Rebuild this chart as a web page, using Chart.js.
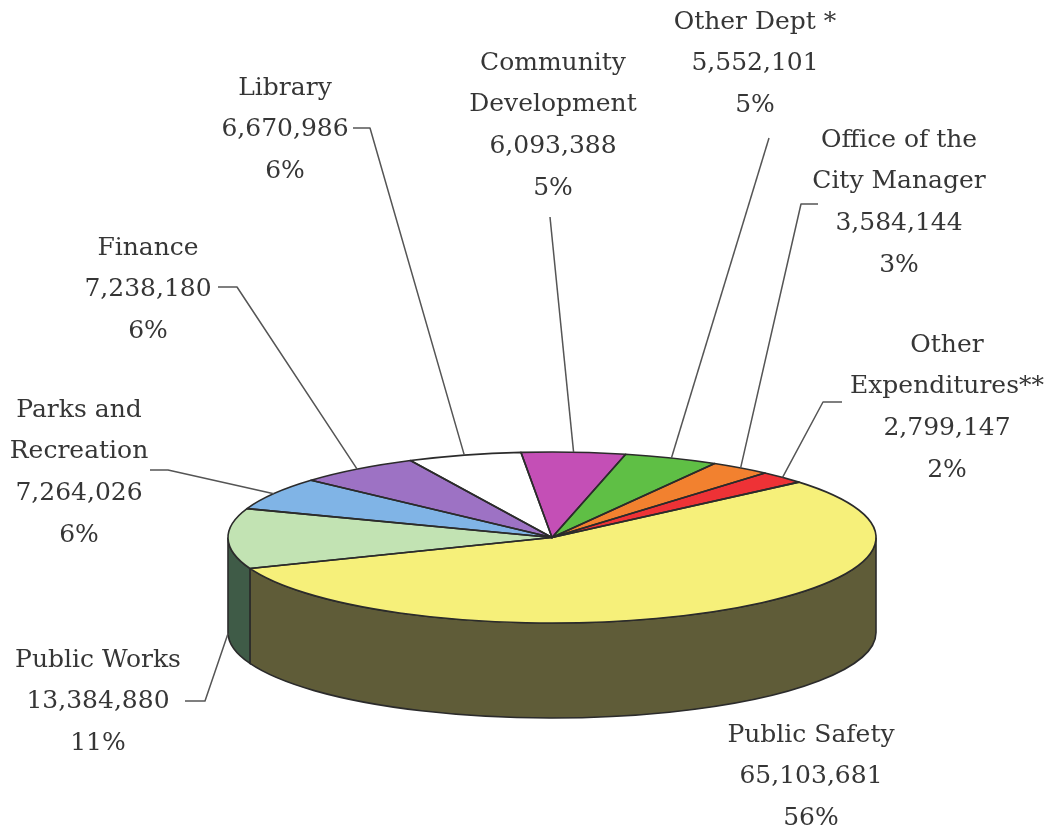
<!DOCTYPE html>
<html>
<head>
<meta charset="utf-8">
<script src="https://cdn.jsdelivr.net/npm/chart.js@4"></script>
<style>
  html, body { margin: 0; padding: 0; background: #ffffff; }
  canvas { display: block; }
</style>
</head>
<body>
<canvas id="budget" width="1044" height="827"></canvas>
<script>
// Expenditures by department, listed clockwise starting at the top of the pie
const departments = [
  'Community Development', 'Other Dept *', 'Office of the City Manager',
  'Other Expenditures**', 'Public Safety', 'Public Works',
  'Parks and Recreation', 'Finance', 'Library'
];
const amounts = [6093388, 5552101, 3584144, 2799147, 65103681, 13384880, 7264026, 7238180, 6670986];
const shareLabels = ['5%', '5%', '3%', '2%', '56%', '11%', '6%', '6%', '6%'];
// how each department name wraps inside its label
const nameLines = [
  ['Community', 'Development'], ['Other Dept *'], ['Office of the', 'City Manager'],
  ['Other', 'Expenditures**'], ['Public Safety'], ['Public Works'],
  ['Parks and', 'Recreation'], ['Finance'], ['Library']
];

// slice colours: top face and the darker outer wall
const topColors  = ['#c44fb6', '#5fbf45', '#f2812f', '#ee3236', '#f6f07a', '#c2e3b3', '#80b4e6', '#9d72c4', '#ffffff'];
const sideColors = ['#6a2a62', '#335f26', '#80441a', '#7e1b1d', '#5f5c38', '#3f5b47', '#45617c', '#553d69', '#8a8a8a'];

// label placement: centre x, centre y of first line, leader polyline from the label towards the slice
const labelLayout = [
  { x: 553, y: 63,  leader: [[550, 217]] },
  { x: 755, y: 22,  leader: [[769, 138]] },
  { x: 899, y: 140, leader: [[818, 204], [801, 204]] },
  { x: 947, y: 345, leader: [[842, 402], [823, 402]] },
  { x: 811, y: 735, leader: null },
  { x: 98,  y: 660, leader: [[185, 701], [205, 701]] },
  { x: 79,  y: 410, leader: [[150, 470], [168, 470]] },
  { x: 148, y: 248, leader: [[218, 287], [237, 287]] },
  { x: 285, y: 88,  leader: [[353, 128], [370, 128]] }
];

// tilted-disc look
const PIE_RADIUS = 324;
const TILT = 0.264;        // vertical squash of the top face
const FACE_CY = 537.5;     // screen y of the top face centre
const DEPTH = 95;          // thickness of the disc
const LINE_GAP = 41.7;
const OUTLINE = '#2b2b2b';

function arcs(chart) { return chart.getDatasetMeta(0).data; }

// walls that face the viewer (angles between 0 and pi in canvas terms)
function frontSpans(a, b) {
  const spans = [];
  for (const base of [-2 * Math.PI, 0, 2 * Math.PI]) {
    const lo = Math.max(a, base), hi = Math.min(b, base + Math.PI);
    if (hi > lo) spans.push([lo, hi]);
  }
  return spans;
}

const tiltedPie = {
  id: 'tiltedPie',
  beforeDatasetsDraw(chart) {
    const ctx = chart.ctx;
    const list = arcs(chart);
    if (!list.length) return;
    const cx = list[0].x, ry = PIE_RADIUS * TILT;
    // outer wall pieces
    list.forEach((arc, i) => {
      frontSpans(arc.startAngle, arc.endAngle).forEach(([lo, hi]) => {
        ctx.beginPath();
        ctx.ellipse(cx, FACE_CY, arc.outerRadius, ry, 0, lo, hi, false);
        ctx.ellipse(cx, FACE_CY + DEPTH, arc.outerRadius, ry, 0, hi, lo, true);
        ctx.closePath();
        ctx.fillStyle = sideColors[i];
        ctx.fill();
        ctx.lineWidth = 1.6;
        ctx.strokeStyle = OUTLINE;
        ctx.stroke();
      });
    });
    // squash the top face drawn by the pie controller
    ctx.save();
    ctx.translate(0, FACE_CY);
    ctx.scale(1, TILT);
    ctx.translate(0, -list[0].y);
  },
  afterDatasetsDraw(chart) {
    const ctx = chart.ctx;
    ctx.restore();
    const list = arcs(chart);
    if (!list.length) return;
    const cx = list[0].x;
    ctx.lineWidth = 1.6;
    ctx.strokeStyle = OUTLINE;
    ctx.lineJoin = 'round';
    list.forEach(arc => {
      const rx = arc.outerRadius, ry = rx * TILT;
      ctx.beginPath();
      ctx.moveTo(cx, FACE_CY);
      ctx.lineTo(cx + rx * Math.cos(arc.startAngle), FACE_CY + ry * Math.sin(arc.startAngle));
      ctx.ellipse(cx, FACE_CY, rx, ry, 0, arc.startAngle, arc.endAngle, false);
      ctx.closePath();
      ctx.stroke();
    });
  }
};

const sliceLabels = {
  id: 'sliceLabels',
  afterDraw(chart) {
    const ctx = chart.ctx;
    const list = arcs(chart);
    const cx = list[0].x;
    ctx.save();
    // leader lines
    ctx.strokeStyle = '#555555';
    ctx.lineWidth = 1.5;
    list.forEach((arc, i) => {
      const lay = labelLayout[i];
      if (!lay.leader) return;
      const mid = (arc.startAngle + arc.endAngle) / 2;
      const rx = arc.outerRadius, ry = rx * TILT;
      let ax = cx + rx * Math.cos(mid);
      let ay = FACE_CY + ry * Math.sin(mid);
      if (Math.sin(mid) > 0) ay += DEPTH;
      ctx.beginPath();
      lay.leader.forEach(([px, py], k) => (k ? ctx.lineTo(px, py) : ctx.moveTo(px, py)));
      ctx.lineTo(ax, ay);
      ctx.stroke();
    });
    // label text
    ctx.font = '25px "DejaVu Serif", serif';
    ctx.fillStyle = '#363636';
    ctx.textAlign = 'center';
    ctx.textBaseline = 'middle';
    list.forEach((arc, i) => {
      const lay = labelLayout[i];
      const lines = nameLines[i].concat([amounts[i].toLocaleString('en-US'), shareLabels[i]]);
      lines.forEach((t, k) => ctx.fillText(t, lay.x, lay.y + k * LINE_GAP));
    });
    ctx.restore();
  }
};

new Chart(document.getElementById('budget'), {
  type: 'pie',
  data: {
    labels: departments,
    datasets: [{
      data: amounts,
      backgroundColor: topColors,
      borderWidth: 0,
      radius: PIE_RADIUS,
      clip: false
    }]
  },
  options: {
    responsive: false,
    animation: false,
    devicePixelRatio: 1,
    rotation: -5.5,
    events: [],
    layout: { padding: { left: 60, right: 0, top: 0, bottom: 0 } },
    plugins: { legend: { display: false }, tooltip: { enabled: false } }
  },
  plugins: [tiltedPie, sliceLabels]
});
</script>
</body>
</html>
